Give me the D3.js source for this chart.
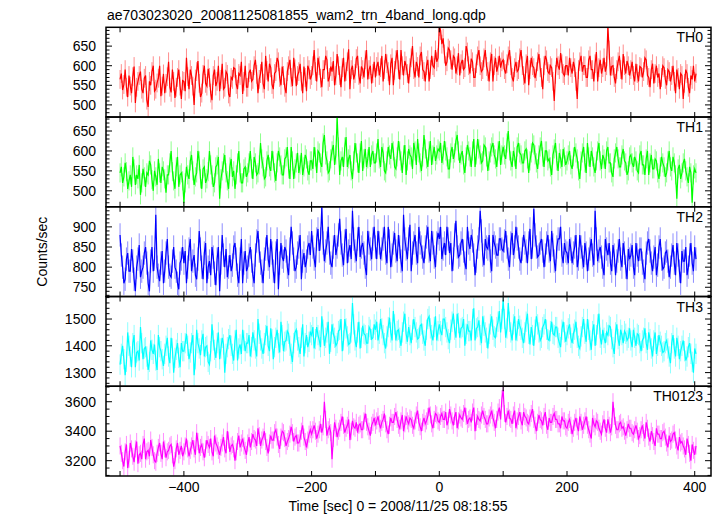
<!DOCTYPE html>
<html><head><meta charset="utf-8">
<script src="https://cdn.jsdelivr.net/npm/d3@7"></script>
<style>body{margin:0;background:#fff}text{font-family:"Liberation Sans",Arial,Helvetica,sans-serif}</style>
</head><body>
<svg id="chart" width="720" height="516"></svg>
<script>
const title = "ae703023020_20081125081855_wam2_trn_4band_long.qdp";
const xLabel = "Time [sec] 0 = 2008/11/25 08:18:55";
const yLabel = "Counts/sec";
const bandNames = ["TH0", "TH1", "TH2", "TH3", "TH0123"];
const binStart = -500, binWidth = 2;

const th0 = [
565,580,538,552,590,545,520,575,548,530,572,598,505,545,560,575,585,540,530,568,575,512,495,560,550,585,600,535,540,556,568,600,522,548,579,530,555,572,610,545,532,590,560,518,545,570,590,548,515,562,
560,535,620,572,540,590,575,548,500,566,585,612,555,520,530,578,600,555,548,592,570,530,512,575,590,548,560,600,535,565,605,540,545,585,578,528,520,570,565,595,592,552,540,580,575,610,528,560,600,545,
545,582,590,560,565,600,615,578,530,565,580,610,555,540,625,588,560,605,595,552,540,580,585,620,610,570,550,598,575,545,530,585,600,615,570,548,620,592,548,575,585,605,560,530,598,570,535,600,590,565,
575,600,640,585,560,620,600,568,545,590,590,625,615,560,570,598,585,612,550,575,630,600,575,545,595,620,560,585,610,642,540,590,600,565,580,618,625,575,555,598,590,570,615,640,565,590,600,555,580,610,
570,598,610,575,595,625,560,590,630,605,585,550,605,620,550,588,615,640,590,565,640,600,575,612,600,580,555,595,620,650,590,570,610,598,570,625,635,590,585,560,600,615,560,590,625,600,595,640,610,620,
700,690,655,670,630,600,610,645,640,615,590,625,620,580,600,632,575,605,615,590,595,650,635,600,580,618,610,570,570,605,625,640,600,585,590,620,640,598,585,560,610,630,560,600,620,585,600,625,595,610,
615,590,580,605,625,640,600,570,560,595,610,585,590,620,640,600,575,555,605,625,550,590,620,600,595,568,585,610,630,595,570,540,600,625,615,585,580,600,595,560,510,578,620,600,590,632,605,580,575,600,
600,575,620,595,580,610,595,560,515,590,610,625,585,600,600,570,570,615,625,590,590,560,605,635,560,595,615,580,595,620,585,600,700,640,575,598,600,570,555,590,610,625,590,565,630,600,580,612,600,575,
590,610,575,560,605,580,560,598,595,570,585,620,615,575,570,545,590,605,555,580,600,570,580,540,570,600,595,565,550,590,585,560,575,600,560,530,590,570,540,580,575,515,555,590,580,545,530,575,565,600,
560,580];
const th1 = [
545,560,520,535,570,548,505,525,540,510,585,555,515,540,530,565,490,520,555,535,510,545,540,575,565,528,500,550,535,515,580,545,520,560,550,530,495,540,540,570,600,548,525,505,560,585,510,540,545,525,
470,520,560,540,530,575,590,550,515,535,545,600,575,530,505,555,560,520,530,548,600,565,540,510,520,560,565,585,480,530,550,570,590,545,525,505,560,580,535,550,505,540,570,600,545,520,520,555,560,535,
545,570,600,555,530,585,570,540,545,565,620,580,560,530,535,575,590,560,550,600,575,545,525,570,600,585,565,540,540,580,585,610,555,530,610,575,530,555,570,595,545,565,595,540,560,590,580,550,540,575,
575,555,610,585,545,600,595,570,560,620,640,590,575,545,550,580,600,615,565,590,685,610,540,575,585,560,610,635,560,580,590,550,530,575,620,595,570,545,595,625,550,580,605,560,580,610,560,590,600,570,
570,595,630,580,560,610,595,550,545,575,610,590,580,620,600,560,555,585,625,600,575,545,590,615,540,575,605,590,585,555,620,600,565,630,595,570,550,585,640,605,580,560,600,625,565,590,610,575,590,605,
600,620,570,590,625,600,585,555,555,595,610,580,595,625,640,600,570,590,600,565,545,585,615,600,585,560,600,630,560,590,630,605,590,570,575,615,610,585,550,575,595,610,620,590,580,560,600,625,565,590,
610,590,580,620,650,600,575,560,600,585,555,610,620,595,590,570,570,600,605,580,545,575,595,620,615,590,570,555,590,610,625,585,560,600,600,575,580,560,540,590,605,620,575,550,595,580,560,605,585,565,
575,590,600,565,555,585,610,595,580,550,530,575,595,610,570,545,620,585,560,600,585,560,545,575,600,620,575,555,590,580,555,600,610,570,570,545,535,580,595,610,580,560,560,590,605,575,570,540,550,585,
590,570,560,585,575,550,545,590,600,565,565,540,580,600,540,570,590,555,555,580,575,545,530,560,585,570,560,535,545,575,600,560,550,585,570,540,480,555,565,530,545,570,580,550,535,520,560,545,470,540,
555,545];
const th2 = [
880,830,800,760,770,820,835,790,790,845,815,770,740,800,820,855,775,790,800,835,850,810,760,740,815,850,790,820,930,800,780,765,810,840,760,790,835,870,800,780,775,815,850,800,790,760,745,810,820,850,
810,840,760,800,845,870,790,815,830,780,770,820,890,845,800,770,835,860,760,800,815,780,850,825,785,755,820,850,740,810,880,830,800,845,775,800,830,790,805,850,860,820,780,760,820,870,760,810,840,790,
800,830,850,815,780,760,830,865,890,840,810,790,760,820,845,880,820,800,870,835,790,760,835,870,745,810,860,825,815,850,840,800,780,845,900,860,820,790,800,835,850,880,770,815,835,800,815,850,860,830,
890,850,820,800,870,895,840,870,950,860,815,840,860,900,835,810,800,850,880,830,850,880,920,860,830,805,865,895,810,840,855,820,940,870,840,815,870,900,825,850,860,835,800,780,890,860,845,820,870,900,
850,820,890,860,820,845,870,900,835,810,900,865,800,830,860,885,840,815,880,850,815,790,930,870,845,820,870,905,790,835,860,880,835,810,900,860,850,825,810,850,875,900,840,815,890,860,825,800,860,885,
870,900,820,845,860,830,900,870,835,860,790,820,880,915,850,825,830,860,870,840,810,795,900,860,845,880,865,830,780,815,850,870,940,890,830,805,870,850,845,880,815,790,880,860,850,830,830,870,870,845,
840,865,890,850,820,800,860,885,830,850,900,870,850,820,810,845,880,860,840,810,860,895,820,850,945,880,850,825,830,860,870,840,800,830,860,880,840,815,890,855,815,790,850,870,870,900,830,810,860,840,
835,810,870,845,810,835,850,880,800,820,880,850,825,800,860,835,790,820,845,870,830,805,940,870,815,840,850,825,800,780,870,845,830,860,810,790,855,830,780,815,840,870,820,800,860,835,800,770,845,820,
830,855,800,780,860,830,815,845,845,810,790,770,835,860,870,840,810,790,825,850,780,805,850,870,820,795,800,835,840,815,775,800,830,855,810,780,860,830,790,760,840,815,815,850,780,800,830,860,810,790,
850,820];
const th3 = [
1330,1370,1400,1350,1290,1340,1450,1400,1360,1320,1410,1440,1320,1375,1380,1345,1470,1410,1350,1390,1395,1360,1310,1340,1420,1385,1370,1405,1345,1310,1440,1395,1380,1350,1325,1370,1400,1430,1360,1335,1430,1390,1300,1355,1385,1410,1355,1320,1410,1380,
1380,1410,1445,1400,1350,1375,1410,1440,1290,1350,1460,1410,1390,1365,1420,1445,1360,1395,1400,1340,1330,1380,1480,1420,1385,1355,1410,1450,1350,1390,1430,1405,1300,1370,1395,1425,1440,1400,1370,1345,1420,1460,1345,1390,1405,1370,1460,1420,1380,1410,
1410,1440,1360,1395,1450,1420,1390,1360,1500,1445,1420,1390,1370,1410,1440,1475,1400,1380,1465,1425,1350,1395,1430,1460,1410,1375,1490,1440,1380,1415,1420,1455,1445,1400,1370,1340,1410,1450,1460,1420,1395,1370,1430,1480,1360,1410,1440,1395,1415,1450,
1440,1470,1390,1425,1470,1440,1420,1395,1510,1460,1400,1430,1450,1490,1370,1415,1480,1445,1430,1400,1410,1455,1460,1500,1380,1420,1500,1465,1435,1405,1410,1450,1560,1480,1420,1395,1450,1490,1390,1430,1475,1445,1440,1410,1410,1470,1460,1425,1430,1480,
1460,1490,1420,1445,1500,1465,1440,1410,1390,1435,1470,1505,1450,1420,1530,1480,1420,1455,1460,1430,1400,1450,1490,1520,1445,1415,1470,1440,1410,1460,1500,1470,1450,1425,1430,1475,1480,1445,1420,1400,1460,1500,1510,1465,1440,1420,1470,1510,1420,1455,
1480,1455,1440,1500,1500,1470,1450,1425,1410,1460,1490,1520,1460,1430,1520,1485,1430,1465,1470,1500,1400,1445,1480,1455,1455,1420,1500,1540,1420,1465,1470,1495,1440,1410,1510,1475,1450,1430,1390,1445,1480,1510,1460,1435,1430,1470,1490,1530,1450,1500,
1570,1500,1430,1465,1560,1490,1450,1420,1480,1510,1420,1455,1500,1475,1460,1430,1410,1450,1490,1520,1445,1405,1470,1440,1400,1460,1510,1480,1450,1420,1430,1470,1480,1500,1460,1425,1420,1455,1490,1445,1440,1470,1470,1430,1410,1395,1460,1490,1450,1415,
1440,1465,1480,1430,1410,1445,1460,1490,1430,1400,1390,1435,1470,1500,1445,1415,1500,1460,1420,1385,1455,1480,1400,1440,1480,1520,1430,1405,1460,1430,1410,1450,1440,1475,1470,1425,1395,1370,1450,1480,1425,1400,1460,1440,1410,1455,1445,1420,1430,1465,
1420,1395,1460,1430,1400,1445,1440,1410,1380,1420,1430,1465,1410,1385,1450,1425,1390,1360,1420,1450,1370,1400,1440,1415,1400,1375,1380,1410,1420,1390,1360,1335,1410,1440,1390,1360,1430,1400,1350,1380,1400,1420,1380,1345,1360,1395,1410,1370,1340,1300,
1390,1370];
const th0123 = [
3300,3250,3200,3160,3260,3310,3150,3210,3320,3280,3230,3190,3280,3330,3180,3240,3250,3210,3310,3350,3210,3260,3270,3230,3340,3290,3240,3200,3190,3250,3290,3320,3250,3210,3330,3280,3220,3260,3270,3300,3310,3240,3160,3200,3280,3320,3240,3270,3300,3230,
3260,3300,3350,3280,3230,3270,3300,3340,3280,3240,3390,3330,3250,3290,3310,3260,3220,3280,3340,3310,3290,3350,3260,3230,3370,3320,3300,3270,3240,3290,3320,3360,3280,3250,3400,3340,3260,3300,3310,3280,3200,3260,3330,3370,3290,3320,3350,3300,3270,3240,
3320,3360,3290,3330,3380,3350,3340,3300,3420,3370,3300,3340,3360,3400,3330,3290,3250,3320,3370,3340,3340,3390,3410,3360,3310,3280,3360,3400,3390,3350,3300,3330,3350,3380,3430,3390,3330,3360,3370,3320,3320,3350,3400,3440,3360,3330,3290,3340,3380,3410,
3380,3410,3440,3400,3350,3380,3410,3450,3390,3430,3600,3480,3370,3410,3430,3390,3210,3350,3460,3420,3360,3400,3420,3460,3500,3440,3390,3420,3440,3480,3340,3400,3470,3430,3420,3460,3390,3440,3450,3410,3410,3470,3520,3460,3430,3400,3370,3440,3460,3490,
3440,3470,3500,3450,3420,3460,3480,3520,3450,3410,3380,3440,3490,3460,3460,3500,3530,3480,3440,3420,3470,3510,3400,3450,3500,3470,3450,3490,3480,3440,3420,3470,3510,3540,3460,3430,3400,3460,3490,3450,3470,3500,3560,3510,3450,3420,3480,3520,3510,3470,
3460,3500,3520,3480,3480,3530,3440,3470,3550,3510,3470,3440,3500,3530,3420,3470,3510,3490,3480,3520,3560,3500,3450,3480,3490,3460,3530,3560,3400,3460,3500,3480,3470,3510,3540,3500,3480,3450,3450,3490,3510,3540,3490,3460,3420,3480,3530,3560,3480,3620,
3680,3520,3460,3500,3540,3490,3480,3450,3510,3540,3420,3470,3500,3530,3470,3440,3530,3500,3490,3460,3450,3490,3520,3550,3480,3440,3400,3460,3510,3480,3470,3440,3500,3530,3440,3410,3490,3460,3460,3500,3520,3480,3480,3450,3450,3420,3500,3470,3470,3430,
3420,3460,3480,3440,3380,3420,3460,3490,3430,3400,3500,3460,3410,3440,3470,3500,3440,3410,3380,3350,3490,3450,3430,3470,3460,3420,3400,3380,3450,3480,3420,3390,3480,3440,3390,3430,3600,3500,3440,3410,3410,3450,3460,3420,3430,3400,3370,3410,3450,3420,
3420,3390,3380,3410,3440,3400,3350,3370,3410,3440,3390,3350,3460,3420,3360,3330,3400,3370,3330,3300,3420,3380,3380,3350,3350,3390,3400,3360,3320,3290,3370,3330,3340,3380,3390,3340,3300,3270,3360,3320,3330,3300,3280,3240,3350,3310,3250,3200,3310,3270,
3240,3300];

const series = [th0, th1, th2, th3, th0123];
const errors = [24, 24, 29, 38, 58];
const yDomains = [[469, 698], [460, 685], [727, 950], [1249, 1584], [3096, 3705]];
const yMajorStep = [50, 50, 50, 100, 200];
const yMinorStep = [10, 10, 10, 20, 50];
const xDomain = [-522, 425.5];
const xTickValues = [-500, -400, -300, -200, -100, 0, 100, 200, 300, 400];
const xLabelValues = [-400, -200, 0, 200, 400];
const colors = ["#ff0000", "#00ff00", "#0000ff", "#00ffff", "#ff00ff"];

const svg = d3.select("#chart");
const plotLeft = 106, plotRight = 711, plotTop = 27.3, plotBottom = 476;
const ph = (plotBottom - plotTop) / 5;
const x = d3.scaleLinear().domain(xDomain).range([plotLeft, plotRight]);

svg.append("text").attr("x", 107).attr("y", 20).attr("font-size", 14).attr("fill", "#000").text(title);

series.forEach((vals, k) => {
  const y0 = plotTop + k * ph, y1 = y0 + ph;
  const y = d3.scaleLinear().domain(yDomains[k]).range([y1, y0]);
  const times = vals.map((v, i) => binStart + i * binWidth);
  const g = svg.append("g");
  const cid = "clip" + k;
  svg.append("clipPath").attr("id", cid).append("rect")
    .attr("x", plotLeft).attr("y", y0).attr("width", plotRight - plotLeft).attr("height", ph);
  const plot = g.append("g").attr("clip-path", `url(#${cid})`);
  plot.selectAll("line.err").data(vals).join("line")
    .attr("x1", (d, i) => x(times[i])).attr("x2", (d, i) => x(times[i]))
    .attr("y1", d => y(d - errors[k])).attr("y2", d => y(d + errors[k]))
    .attr("stroke", colors[k]).attr("stroke-opacity", 0.45).attr("stroke-width", 1);
  plot.append("path").datum(vals)
    .attr("d", d3.line().x((d, i) => x(times[i])).y(d => y(d)))
    .attr("fill", "none").attr("stroke", colors[k]).attr("stroke-width", 1.2);

  const minors = d3.range(Math.ceil(yDomains[k][0] / yMinorStep[k]) * yMinorStep[k], yDomains[k][1], yMinorStep[k]);
  minors.forEach(v => {
    const isMajor = Math.abs(v / yMajorStep[k] - Math.round(v / yMajorStep[k])) < 1e-9;
    const len = isMajor ? 6 : 3.5;
    g.append("line").attr("x1", plotLeft).attr("x2", plotLeft + len).attr("y1", y(v)).attr("y2", y(v)).attr("stroke", "#000").attr("stroke-width", 1);
    g.append("line").attr("x1", plotRight).attr("x2", plotRight - len).attr("y1", y(v)).attr("y2", y(v)).attr("stroke", "#000").attr("stroke-width", 1);
    if (isMajor) {
      g.append("text").attr("x", 96).attr("y", y(v)).attr("dy", "0.36em").attr("text-anchor", "end")
        .attr("font-size", 14).attr("fill", "#000").text(v);
    }
  });
  xTickValues.forEach(t => {
    g.append("line").attr("x1", x(t)).attr("x2", x(t)).attr("y1", y0).attr("y2", y0 + 5).attr("stroke", "#000").attr("stroke-width", 1);
    g.append("line").attr("x1", x(t)).attr("x2", x(t)).attr("y1", y1).attr("y2", y1 - 5).attr("stroke", "#000").attr("stroke-width", 1);
  });
  g.append("rect").attr("x", plotLeft).attr("y", y0).attr("width", plotRight - plotLeft).attr("height", ph)
    .attr("fill", "none").attr("stroke", "#000").attr("stroke-width", 1.5);
  g.append("text").attr("x", 703).attr("y", y0 + 15).attr("text-anchor", "end")
    .attr("font-size", 14).attr("fill", "#000").text(bandNames[k]);
});

xLabelValues.forEach(t => {
  svg.append("text").attr("x", x(t)).attr("y", 492).attr("text-anchor", "middle")
    .attr("font-size", 14).attr("fill", "#000").text(t < 0 ? "\u2212" + Math.abs(t) : t);
});
svg.append("text").attr("x", 398).attr("y", 511).attr("text-anchor", "middle")
  .attr("font-size", 14).attr("fill", "#000").text(xLabel);
svg.append("text").attr("transform", `translate(47,${(plotTop + plotBottom) / 2}) rotate(-90)`)
  .attr("text-anchor", "middle").attr("font-size", 14).attr("fill", "#000").text(yLabel);
</script>
</body></html>
